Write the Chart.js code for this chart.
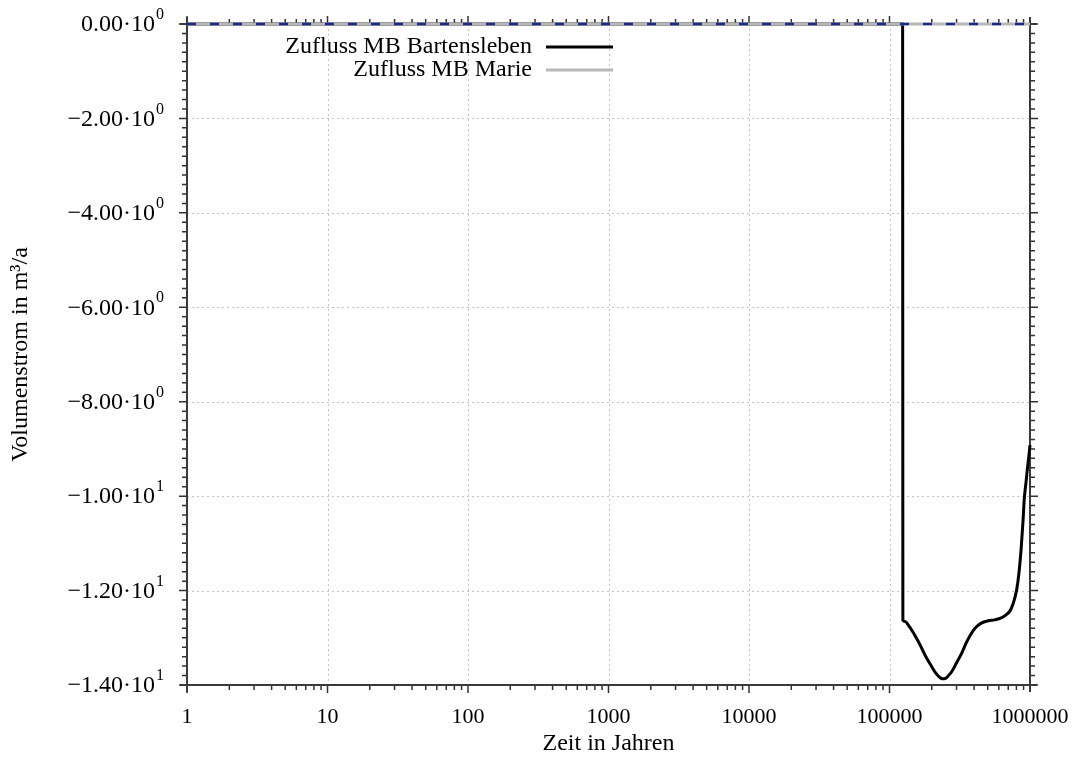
<!DOCTYPE html>
<html>
<head>
<meta charset="utf-8">
<script src="https://cdn.jsdelivr.net/npm/chart.js@4.4.0/dist/chart.umd.min.js"></script>
<style>
  body { margin: 0; background: #fff; }
  canvas { display: block; }
</style>
</head>
<body>
<canvas id="chart" width="1077" height="765"></canvas>
<script>
// Zeitpunkte (Jahre) und Volumenstrom (m³/a)
const yearsBart = [1, 124000, 124500, 130000, 136000, 145000, 155000, 165000, 180000, 199500,
  215000, 228000, 238000, 250000, 263000, 277000, 300000, 326000, 350000, 375000,
  406000, 450000, 505000, 560000, 611000, 664000, 721000, 760000, 804000, 835000,
  863000, 891000, 911000, 935000, 957000, 980000, 1000000];
const flowBart = [0, 0, -12.63, -12.66, -12.73, -12.85, -13.0, -13.15, -13.38, -13.61,
  -13.76, -13.84, -13.87, -13.86, -13.80, -13.72, -13.53, -13.33, -13.12, -12.95,
  -12.80, -12.69, -12.64, -12.62, -12.59, -12.53, -12.43, -12.27, -11.98, -11.62,
  -11.15, -10.55, -10.05, -9.73, -9.44, -9.17, -8.92];
const yearsMarie = [1, 1000000];
const flowMarie = [0, 0];
const yearsRef = [1, 1000000];
const flowRef = [0, 0];

const seriesLabels = ['Zufluss MB Bartensleben', 'Zufluss MB Marie'];
const xMajor = [1, 10, 100, 1000, 10000, 100000, 1000000];
const yMajor = [0, -2, -4, -6, -8, -10, -12, -14];
const yMantissa = ['0.00', '\u22122.00', '\u22124.00', '\u22126.00', '\u22128.00', '\u22121.00', '\u22121.20', '\u22121.40'];
const yExponent = ['0', '0', '0', '0', '0', '1', '1', '1'];

const FONT = '"Liberation Serif", "Times New Roman", serif';

function pts(xs, ys) { return xs.map((v, i) => ({x: v, y: ys[i]})); }

const frame = {
  id: 'frame',
  beforeDatasetsDraw(chart) {
    const {ctx, chartArea: a, scales: {x, y}} = chart;
    ctx.save();
    // dotted grid at major ticks
    ctx.strokeStyle = '#c4c4c4';
    ctx.lineWidth = 1;
    ctx.setLineDash([2, 3]);
    ctx.beginPath();
    xMajor.slice(1, -1).forEach(v => {
      const px = Math.round(x.getPixelForValue(v)) + 0.5;
      ctx.moveTo(px, a.top); ctx.lineTo(px, a.bottom);
    });
    yMajor.slice(1, -1).forEach(v => {
      const py = Math.round(y.getPixelForValue(v)) + 0.5;
      ctx.moveTo(a.left, py); ctx.lineTo(a.right, py);
    });
    ctx.stroke();
    ctx.setLineDash([]);

    // ticks, pointing outward
    ctx.strokeStyle = '#333';
    ctx.lineWidth = 1.5;
    ctx.beginPath();
    for (let d = 0; d < 6; d++) {
      for (let m = 1; m <= 9; m++) {
        const v = Math.pow(10, d) * m;
        const px = x.getPixelForValue(v);
        const len = m === 1 ? 8 : 5;
        ctx.moveTo(px, a.bottom); ctx.lineTo(px, a.bottom + len);
        ctx.moveTo(px, a.top); ctx.lineTo(px, a.top - len);
      }
    }
    for (let k = 0; k <= 70; k++) {
      const v = -k * 0.2;
      const py = y.getPixelForValue(v);
      const len = k % 10 === 0 ? 8 : 5;
      ctx.moveTo(a.left, py); ctx.lineTo(a.left - len, py);
      ctx.moveTo(a.right, py); ctx.lineTo(a.right + len, py);
    }
    ctx.stroke();

    // frame, lines run a little past the corners
    ctx.strokeStyle = '#3a3a3a';
    ctx.lineWidth = 2;
    ctx.beginPath();
    ctx.moveTo(a.left - 7, a.top); ctx.lineTo(a.right + 7, a.top);
    ctx.moveTo(a.left - 7, a.bottom); ctx.lineTo(a.right + 7, a.bottom);
    ctx.moveTo(a.left, a.top - 7); ctx.lineTo(a.left, a.bottom + 7);
    ctx.moveTo(a.right, a.top - 7); ctx.lineTo(a.right, a.bottom + 7);
    ctx.stroke();
    ctx.restore();
  },
  afterDraw(chart) {
    const {ctx, chartArea: a, scales: {y}} = chart;
    ctx.save();
    // y tick labels with superscript exponent
    ctx.fillStyle = '#000';
    ctx.textBaseline = 'middle';
    yMajor.forEach((v, i) => {
      const py = y.getPixelForValue(v);
      ctx.font = '16px ' + FONT;
      ctx.textAlign = 'right';
      const expW = ctx.measureText(yExponent[i]).width;
      const right = a.left - 23;
      ctx.fillText(yExponent[i], right, py - 9);
      ctx.font = '24px ' + FONT;
      ctx.fillText(yMantissa[i] + '\u00b710', right - expW - 1, py + 1);
    });
    // legend
    const ds = chart.data.datasets;
    ctx.font = '24px ' + FONT;
    ctx.textAlign = 'right';
    [0, 1].forEach(i => {
      const ly = 47 + i * 23;
      ctx.fillStyle = '#000';
      ctx.fillText(seriesLabels[i], 532, ly);
      ctx.strokeStyle = ds[i].borderColor;
      ctx.lineWidth = ds[i].borderWidth;
      ctx.beginPath();
      ctx.moveTo(546, ly); ctx.lineTo(613, ly);
      ctx.stroke();
    });
    ctx.restore();
  }
};

new Chart(document.getElementById('chart'), {
  type: 'line',
  data: {
    datasets: [
      {label: seriesLabels[0], data: pts(yearsBart, flowBart), borderColor: '#000', borderWidth: 3,
       pointRadius: 0, cubicInterpolationMode: 'monotone', clip: 6, order: 3},
      {label: seriesLabels[1], data: pts(yearsMarie, flowMarie), borderColor: '#b8b8b8', borderWidth: 3,
       pointRadius: 0, clip: 6, order: 2},
      {label: '', data: pts(yearsRef, flowRef), borderColor: '#1c2a86', borderWidth: 2.5,
       borderDash: [9, 14], pointRadius: 0, clip: 6, order: 1}
    ]
  },
  options: {
    responsive: false,
    animation: false,
    layout: {padding: {left: 0, top: 24, right: 47, bottom: 0}},
    plugins: {legend: {display: false}, tooltip: {enabled: false}},
    scales: {
      x: {
        type: 'logarithmic', min: 1, max: 1000000,
        afterBuildTicks: s => { s.ticks = xMajor.map(v => ({value: v})); },
        afterFit: s => { s.height = 80; s.paddingLeft = 0; s.paddingRight = 0; },
        grid: {display: false, drawTicks: false},
        border: {display: false},
        ticks: {
          autoSkip: false, maxRotation: 0, padding: 19, color: '#000',
          font: {family: FONT, size: 22},
          callback: v => String(v)
        },
        title: {display: true, text: 'Zeit in Jahren', color: '#000',
          font: {family: FONT, size: 24}, padding: {top: 0, bottom: 7}}
      },
      y: {
        min: -14, max: 0,
        afterBuildTicks: s => { s.ticks = yMajor.map(v => ({value: v})); },
        afterFit: s => { s.width = 187; s.paddingTop = 0; s.paddingBottom = 0; },
        grid: {display: false, drawTicks: false},
        border: {display: false},
        ticks: {display: false},
        title: {display: true, text: 'Volumenstrom in m\u00b3/a', color: '#000',
          font: {family: FONT, size: 24}, padding: {top: 6, bottom: 0}}
      }
    }
  },
  plugins: [frame]
});
</script>
</body>
</html>
